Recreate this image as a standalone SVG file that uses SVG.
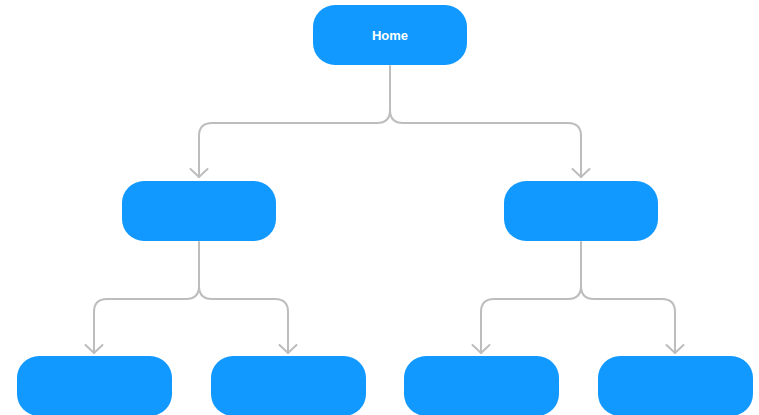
<svg xmlns="http://www.w3.org/2000/svg" width="759" height="415" viewBox="0 0 759 415">
<style>
.node{fill:#1199ff}
.lbl{font-family:"Liberation Sans",Arial,sans-serif;font-size:13px;font-weight:bold;fill:#ffffff;text-anchor:middle;dominant-baseline:central}
.conn{fill:none;stroke:#bdbdbd;stroke-width:2;stroke-linecap:round;stroke-linejoin:round}
</style>
<defs>
<marker id="arr" markerWidth="20" markerHeight="20" refX="10" refY="10" orient="auto" markerUnits="userSpaceOnUse">
<path d="M2,1.5 L10,10 L2,18.5" fill="none" stroke="#bdbdbd" stroke-width="2" stroke-linecap="round" stroke-linejoin="round"/>
</marker>
</defs>
<rect width="759" height="415" fill="#ffffff"/>
<g id="connectors" class="conn">
<path d="M390,66 V110 Q390,123 377,123 H212 Q199,123 199,136 V177" marker-end="url(#arr)"/>
<path d="M390,110 Q390,123 403,123 H568 Q581,123 581,136 V177" marker-end="url(#arr)"/>
<path d="M199,242 V286 Q199,299 186,299 H107 Q94,299 94,312 V353" marker-end="url(#arr)"/>
<path d="M199,286 Q199,299 212,299 H275 Q288,299 288,312 V353" marker-end="url(#arr)"/>
<path d="M581,242 V286 Q581,299 568,299 H494 Q481,299 481,312 V353" marker-end="url(#arr)"/>
<path d="M581,286 Q581,299 594,299 H662 Q675,299 675,312 V353" marker-end="url(#arr)"/>
</g>
<g id="home"><rect class="node" x="313" y="5" width="154" height="60" rx="22"/><text class="lbl" x="390" y="35">Home</text></g>
<g id="mid-left"><rect class="node" x="122" y="181" width="154" height="60" rx="22"/></g>
<g id="mid-right"><rect class="node" x="504" y="181" width="154" height="60" rx="22"/></g>
<g id="bottom-1"><rect class="node" x="17" y="356" width="155" height="60" rx="22"/></g>
<g id="bottom-2"><rect class="node" x="211" y="356" width="155" height="60" rx="22"/></g>
<g id="bottom-3"><rect class="node" x="404" y="356" width="155" height="60" rx="22"/></g>
<g id="bottom-4"><rect class="node" x="598" y="356" width="155" height="60" rx="22"/></g>
</svg>
